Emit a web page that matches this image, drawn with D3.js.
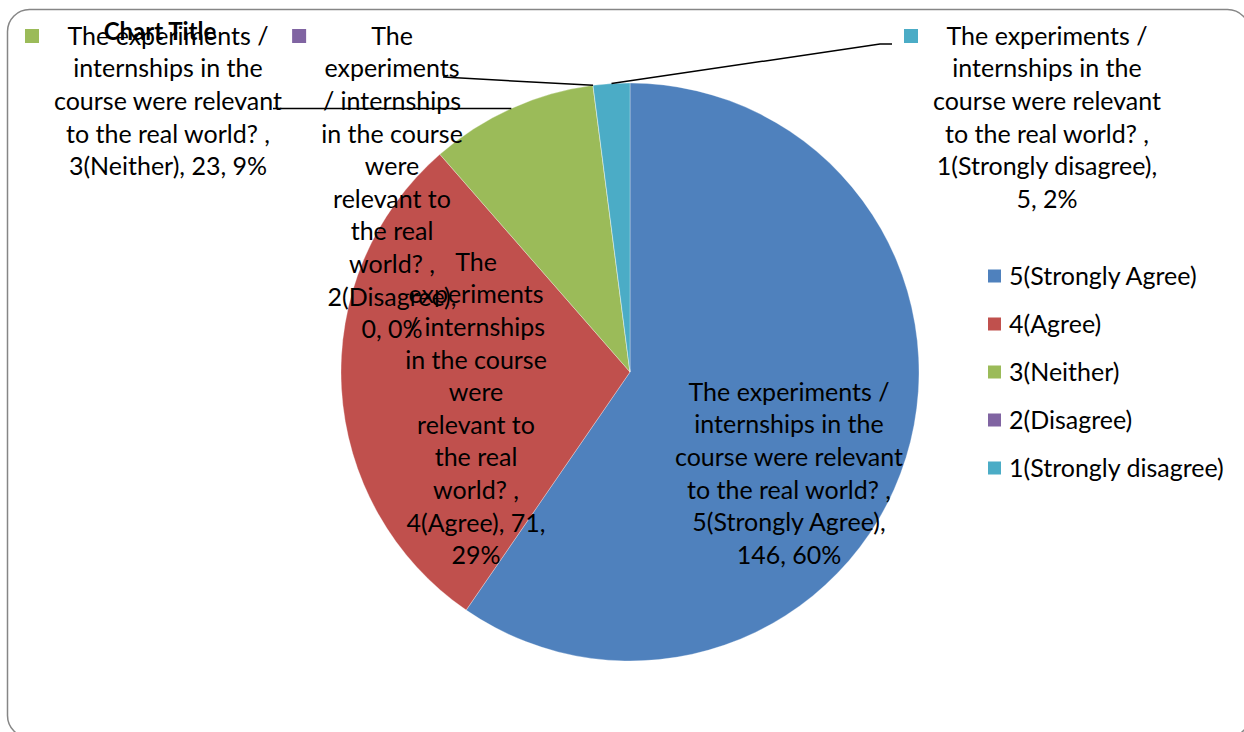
<!DOCTYPE html>
<html>
<head>
<meta charset="utf-8">
<script src="https://cdn.jsdelivr.net/npm/d3@7"></script>
<style>
  html, body { margin: 0; padding: 0; background: #fff; }
  svg { display: block; font-family: Lato, "Open Sans", sans-serif; }
</style>
</head>
<body>
<div id="chart"></div>
<script>
(() => {
  const categories = ["5(Strongly Agree)", "4(Agree)", "3(Neither)", "2(Disagree)", "1(Strongly disagree)"];
  const counts = [146, 71, 23, 0, 5];
  const percents = ["60%", "29%", "9%", "0%", "2%"];
  const colors = ["#4F81BD", "#C0504D", "#9BBB59", "#8064A2", "#4BACC6"];

  // data label text, wrapped as in the picture
  const labelLines = [
    ["The experiments /", "internships in the", "course were relevant", "to the real world? ,", "5(Strongly Agree),", "146, 60%"],
    ["The", "experiments", "/ internships", "in the course", "were", "relevant to", "the real", "world? ,", "4(Agree), 71,", "29%"],
    ["The experiments /", "internships in the", "course were relevant", "to the real world? ,", "3(Neither), 23, 9%"],
    ["The", "experiments", "/ internships", "in the course", "were", "relevant to", "the real", "world? ,", "2(Disagree),", "0, 0%"],
    ["The experiments /", "internships in the", "course were relevant", "to the real world? ,", "1(Strongly disagree),", "5, 2%"],
  ];

  const width = 1244;
  const height = 732;
  const cx = 630;
  const cy = 372;
  const radius = 289;
  const lineH = 32.6;
  const fontSize = 25;

  // label layout (centre x, first line y, show key, leader elbow)
  const labelLayout = [
    { x: 789, y: 392, key: false },
    { x: 476, y: 262, key: false },
    { x: 168, y: 36, key: true, leader: [[273, 108.6]] },
    { x: 392, y: 36, key: true, leader: [[443, 77]] },
    { x: 1047, y: 36, key: true, leader: [[880, 44], [892, 44]] },
  ];

  const data = categories.map((c, i) => ({ category: c, count: counts[i], pct: percents[i], color: colors[i] }));

  const svg = d3.select("#chart").append("svg")
    .attr("width", width)
    .attr("height", height);

  svg.append("rect")
    .attr("x", 7.5).attr("y", 9.5)
    .attr("width", 1242).attr("height", 728)
    .attr("rx", 22).attr("ry", 22)
    .attr("fill", "#fff")
    .attr("stroke", "#868686")
    .attr("stroke-width", 1.5);

  const pie = d3.pie().sort(null).value((d) => d.count);
  const arcs = pie(data);
  const arc = d3.arc().innerRadius(0).outerRadius(radius);
  const rim = d3.arc().innerRadius(radius).outerRadius(radius);

  const g = svg.append("g").attr("transform", `translate(${cx},${cy})`);
  g.selectAll("path")
    .data(arcs)
    .join("path")
    .attr("d", arc)
    .attr("fill", (d) => d.data.color)
    .attr("stroke", "rgba(255,255,255,0.5)")
    .attr("stroke-width", 0.6);

  // leader lines
  const line = d3.line();
  arcs.forEach((d, i) => {
    const lay = labelLayout[i];
    if (!lay.leader) return;
    const [px, py] = rim.centroid(d);
    const end = [cx + px, cy + py];
    const pts = i === 4 ? [end, ...lay.leader] : [...lay.leader, end];
    svg.append("path")
      .attr("d", line(pts))
      .attr("fill", "none")
      .attr("stroke", "#000")
      .attr("stroke-width", 1.5);
  });

  // data labels
  const labels = svg.append("g").attr("font-size", fontSize).attr("fill", "#000");
  labelLayout.forEach((lay, i) => {
    const t = labels.append("text").attr("text-anchor", "middle");
    labelLines[i].forEach((s, k) => {
      t.append("tspan")
        .attr("x", lay.x)
        .attr("y", lay.y + k * lineH)
        .attr("dy", "0.35em")
        .text(s);
    });
    if (lay.key) {
      const w = d3.max(t.selectAll("tspan").nodes(), (n) => n.getComputedTextLength());
      labels.append("rect")
        .attr("x", lay.x - w / 2 - 29)
        .attr("y", lay.y - 7)
        .attr("width", 14)
        .attr("height", 14)
        .attr("fill", data[i].color);
    }
  });

  // title
  svg.append("text")
    .attr("x", 160).attr("y", 32)
    .attr("dy", "0.35em")
    .attr("text-anchor", "middle")
    .attr("font-size", 24)
    .attr("font-weight", "bold")
    .text("Chart Title");

  // legend
  const legendY = d3.scalePoint().domain(categories).range([276, 468]);
  const legend = svg.append("g").attr("font-size", fontSize);
  legend.selectAll("rect")
    .data(data)
    .join("rect")
    .attr("x", 988)
    .attr("y", (d) => legendY(d.category) - 6.5)
    .attr("width", 13)
    .attr("height", 13)
    .attr("fill", (d) => d.color);
  legend.selectAll("text")
    .data(data)
    .join("text")
    .attr("x", 1009)
    .attr("y", (d) => legendY(d.category))
    .attr("dy", "0.35em")
    .text((d) => d.category);
})();
</script>
</body>
</html>
